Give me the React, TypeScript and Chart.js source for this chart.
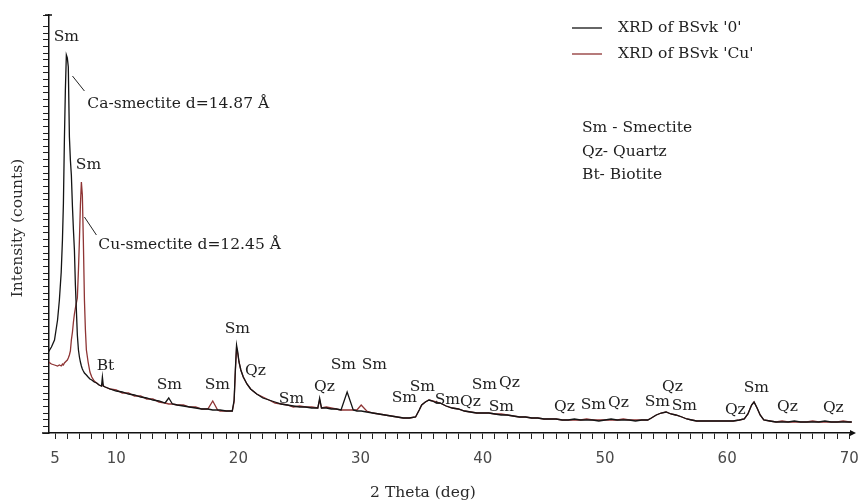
import React, { useEffect, useRef } from "react";
import { Chart, registerables } from "chart.js";

Chart.register(...registerables);

// 2θ positions (deg) shared by both scans
const twoTheta = [
  4.45, 4.7, 4.95, 5.2, 5.35, 5.5, 5.6, 5.68, 5.76, 5.84, 5.92, 6.0, 6.08, 6.17, 6.25, 6.33,
  6.42, 6.5, 6.58, 6.66, 6.74, 6.82, 6.91, 6.99, 7.07, 7.15, 7.23, 7.31, 7.4, 7.48, 7.56, 7.7,
  7.85, 8.0, 8.2, 8.4, 8.6, 8.8, 8.87, 8.95, 9.1,
  9.5, 10, 10.5, 11, 11.5, 12, 12.5, 13, 13.5, 14, 14.3, 14.6, 15, 15.5, 16, 16.5, 17, 17.5,
  17.9, 18.3, 18.5, 19, 19.5, 19.65, 19.75, 19.85, 19.95, 20.05, 20.2, 20.4, 20.7, 21, 21.5,
  22, 22.5, 23, 23.5, 24, 24.5, 25, 25.5, 26, 26.5, 26.65, 26.8, 27.2, 27.6, 28, 28.4, 28.9,
  29.4, 29.7, 30.05, 30.5, 31, 31.5, 32, 32.5, 33, 33.5, 34, 34.5, 34.8, 35.0, 35.3, 35.6,
  35.9, 36.2, 36.5, 37, 37.5, 38, 38.5, 39, 39.5, 40, 40.5, 41, 41.5, 42, 42.5, 43, 43.5, 44,
  44.5, 45, 45.5, 46, 46.5, 47, 47.5, 48, 48.5, 49, 49.5, 50, 50.5, 51, 51.5, 52, 52.5, 53,
  53.5, 53.8, 54.2, 54.6, 55.0, 55.4, 55.8, 56.3, 56.7, 57.1, 57.5, 58, 58.5, 59, 59.5, 60,
  60.5, 61, 61.4, 61.7, 62.0, 62.2, 62.45, 62.7, 63.0, 63.5, 64, 64.5, 65, 65.5, 66, 66.5, 67,
  67.5, 68, 68.5, 69, 69.5, 70, 70.2,
];

// Intensity (counts), sample BSvk '0' (Ca-smectite)
const countsCa = [
  1215, 1290, 1395, 1695, 1995, 2415, 2895, 3450, 4395, 5145, 5670, 5625, 5490, 4440, 4095, 3870,
  3390, 3045, 2745, 2220, 1845, 1470, 1245, 1140, 1065, 1005, 960, 930, 900, 885, 870, 840,
  810, 795, 765, 750, 720, 705, 840, 705, 690,
  660, 630, 615, 585, 570, 540, 525, 495, 480, 450, 525, 435, 420, 405, 390, 375, 360, 360,
  345, 345, 345, 330, 330, 495, 945, 1320, 1215, 1065, 945, 840, 735, 660, 585,
  525, 495, 465, 435, 420, 405, 390, 390, 375, 375, 525, 375, 375, 360, 360, 345, 615,
  345, 330, 330, 315, 300, 285, 270, 255, 240, 225, 225, 240, 345, 420, 465, 495,
  480, 450, 450, 405, 375, 360, 330, 315, 300, 300, 300, 285, 270, 270, 255, 240, 240, 225,
  225, 210, 210, 210, 195, 195, 210, 195, 195, 195, 180, 195, 210, 195, 195, 195, 180, 195,
  195, 225, 270, 300, 315, 285, 270, 240, 210, 195, 180, 180, 180, 180, 180, 180,
  180, 195, 210, 285, 420, 465, 375, 270, 195, 180, 165, 165, 165, 180, 165, 165, 165,
  165, 180, 165, 165, 165, 165, 165,
];

// Intensity (counts), sample BSvk 'Cu' (Cu-smectite)
const countsCu = [
  1065, 1035, 1020, 1005, 1020, 1005, 1035, 1020, 1050, 1065, 1080, 1095, 1125, 1170, 1230, 1395,
  1515, 1665, 1785, 1875, 1950, 2025, 2445, 2895, 3420, 3765, 3570, 2895, 1995, 1545, 1245, 1065,
  915, 840, 780, 750, 720, 705, 735, 705, 690,
  660, 645, 600, 600, 555, 555, 510, 510, 465, 450, 435, 435, 420, 420, 390, 390, 360, 360,
  480, 345, 330, 330, 330, 465, 915, 1275, 1185, 1065, 945, 840, 735, 660, 585,
  540, 495, 450, 435, 420, 390, 405, 390, 390, 375, 495, 375, 390, 375, 360, 345, 345,
  345, 345, 420, 330, 300, 285, 270, 255, 240, 225, 225, 240, 345, 420, 465, 495,
  480, 465, 450, 405, 375, 360, 330, 315, 300, 300, 300, 285, 285, 270, 255, 240, 240, 225,
  225, 210, 210, 210, 195, 195, 195, 195, 210, 195, 195, 195, 195, 195, 210, 195, 195, 195,
  195, 225, 270, 300, 315, 285, 270, 240, 210, 195, 180, 180, 180, 180, 180, 180,
  180, 195, 210, 285, 420, 465, 375, 270, 195, 180, 165, 180, 165, 165, 165, 165, 180,
  165, 165, 165, 165, 180, 165, 165,
];

const seriesNames = ["XRD of BSvk '0'", "XRD of BSvk 'Cu'"];
const seriesColors = ["#141414", "#8e3434"];

// labelled 2θ values on the x axis
const xTickLabels = [5, 10, 20, 30, 40, 50, 60, 70];

const phaseKey = ["Sm - Smectite", "Qz- Quartz", "Bt- Biotite"];

// phase labels: [text, 2θ, counts]
const peakLabels: [string, number, number][] = [
  ["Sm", 5.92, 5940],
  ["Sm", 7.73, 4020],
  ["Bt", 9.12, 1005],
  ["Sm", 14.35, 720],
  ["Sm", 18.28, 720],
  ["Sm", 19.92, 1560],
  ["Qz", 21.39, 930],
  ["Sm", 24.34, 510],
  ["Qz", 27.04, 690],
  ["Sm", 28.59, 1020],
  ["Sm", 31.13, 1020],
  ["Sm", 33.58, 525],
  ["Sm", 35.06, 690],
  ["Sm", 37.1, 495],
  ["Qz", 38.99, 465],
  ["Sm", 40.13, 720],
  ["Qz", 42.18, 750],
  ["Sm", 41.52, 390],
  ["Qz", 46.68, 390],
  ["Sm", 49.05, 420],
  ["Qz", 51.1, 450],
  ["Sm", 54.29, 465],
  ["Qz", 55.52, 690],
  ["Sm", 56.5, 405],
  ["Qz", 60.67, 345],
  ["Sm", 62.39, 675],
  ["Qz", 64.93, 390],
  ["Qz", 68.69, 375],
];

// basal-reflection notes: text, leader start, leader end, text anchor (2θ, counts)
const basalNotes = [
  { text: "Ca-smectite d=14.87 Å", from: [6.42, 5355], to: [7.4, 5130], at: [7.64, 4935] },
  { text: "Cu-smectite d=12.45 Å", from: [7.4, 3240], to: [8.38, 2970], at: [8.54, 2820] },
];

const SERIF = "'DejaVu Serif', serif";

const annotations = {
  id: "xrdAnnotations",
  afterDraw(chart: any) {
    const { ctx, scales } = chart;
    const xs = scales.x;
    const ys = scales.y;
    const area = chart.chartArea;
    ctx.save();

    // arrow head at the end of the 2θ axis, cap on the intensity axis
    ctx.fillStyle = "#111";
    ctx.beginPath();
    ctx.moveTo(area.right + 3, area.bottom);
    ctx.lineTo(area.right - 3, area.bottom - 3);
    ctx.lineTo(area.right - 3, area.bottom + 3);
    ctx.closePath();
    ctx.fill();
    ctx.strokeStyle = "#111";
    ctx.lineWidth = 1.5;
    ctx.beginPath();
    ctx.moveTo(area.left - 4, area.top);
    ctx.lineTo(area.left + 3, area.top);
    ctx.stroke();
    ctx.beginPath();
    ctx.moveTo(area.left - 7, area.bottom);
    ctx.lineTo(area.left, area.bottom);
    ctx.stroke();

    ctx.fillStyle = "#1e1e1e";
    ctx.font = `15.5px ${SERIF}`;
    ctx.textBaseline = "middle";

    // phase labels
    ctx.textAlign = "center";
    for (const [t, th, c] of peakLabels) {
      ctx.fillText(t, xs.getPixelForValue(th), ys.getPixelForValue(c));
    }

    // d-spacing notes with leader lines
    ctx.textAlign = "left";
    ctx.strokeStyle = "#222";
    ctx.lineWidth = 1;
    for (const n of basalNotes) {
      ctx.beginPath();
      ctx.moveTo(xs.getPixelForValue(n.from[0]), ys.getPixelForValue(n.from[1]));
      ctx.lineTo(xs.getPixelForValue(n.to[0]), ys.getPixelForValue(n.to[1]));
      ctx.stroke();
      ctx.fillText(n.text, xs.getPixelForValue(n.at[0]), ys.getPixelForValue(n.at[1]));
    }

    // series legend
    const legendY = [28, 54];
    chart.data.datasets.forEach((ds: any, i: number) => {
      ctx.strokeStyle = ds.borderColor;
      ctx.lineWidth = 1.3;
      ctx.beginPath();
      ctx.moveTo(572, legendY[i]);
      ctx.lineTo(602, legendY[i]);
      ctx.stroke();
      ctx.fillStyle = "#1e1e1e";
      ctx.fillText(ds.label, 618, legendY[i]);
    });

    // phase abbreviations
    const keyY = [128, 152, 175];
    phaseKey.forEach((k, i) => ctx.fillText(k, 582, keyY[i]));

    // axis titles
    ctx.fillStyle = "#2a2a2a";
    ctx.textAlign = "center";
    ctx.fillText("2 Theta (deg)", 423, 493);
    ctx.translate(18, 228);
    ctx.rotate(-Math.PI / 2);
    ctx.fillText("Intensity (counts)", 0, 0);

    ctx.restore();
  },
};

export default function App() {
  const canvasRef = useRef<HTMLCanvasElement | null>(null);

  useEffect(() => {
    const canvas = canvasRef.current;
    if (!canvas) return;
    const series = [countsCa, countsCu];
    const chart = new Chart(canvas, {
      type: "line",
      data: {
        datasets: series.map((vals, i) => ({
          label: seriesNames[i],
          data: twoTheta.map((t, j) => ({ x: t, y: vals[j] })),
          borderColor: seriesColors[i],
          borderWidth: 1.3,
          pointRadius: 0,
          tension: 0,
          fill: false,
        })),
      },
      options: {
        responsive: false,
        animation: false,
        events: [],
        layout: { padding: { top: 15, right: 12, left: 0, bottom: 0 } },
        plugins: {
          legend: { display: false },
          tooltip: { enabled: false },
        },
        scales: {
          x: {
            type: "linear",
            min: 4.5,
            max: 70.3,
            afterFit: (s: any) => {
              s.height = 71;
              s.paddingLeft = 0;
              s.paddingRight = 0;
            },
            border: { display: true, color: "#111", width: 1.5 },
            grid: {
              drawOnChartArea: false,
              drawTicks: true,
              tickLength: 6,
              tickColor: "#222",
            },
            ticks: {
              stepSize: 1,
              includeBounds: false,
              autoSkip: false,
              maxRotation: 0,
              padding: 11,
              color: "#4a4a4a",
              font: { family: "'DejaVu Sans', sans-serif", size: 15 },
              callback: (v: any) => (xTickLabels.includes(Number(v)) ? String(v) : ""),
            },
          },
          y: {
            type: "linear",
            min: 0,
            max: 6270,
            afterFit: (s: any) => {
              s.width = 49;
            },
            border: { display: true, color: "#111", width: 1.5 },
            grid: {
              drawOnChartArea: false,
              drawTicks: true,
              tickLength: 6,
              tickColor: "#222",
            },
            ticks: { stepSize: 100, display: false },
          },
        },
      },
      plugins: [annotations],
    });
    return () => chart.destroy();
  }, []);

  return (
    <div style={{ position: "fixed", left: 0, top: 0, width: 865, height: 504, background: "#fff" }}>
      <canvas ref={canvasRef} width={865} height={504} style={{ display: "block" }} />
    </div>
  );
}
